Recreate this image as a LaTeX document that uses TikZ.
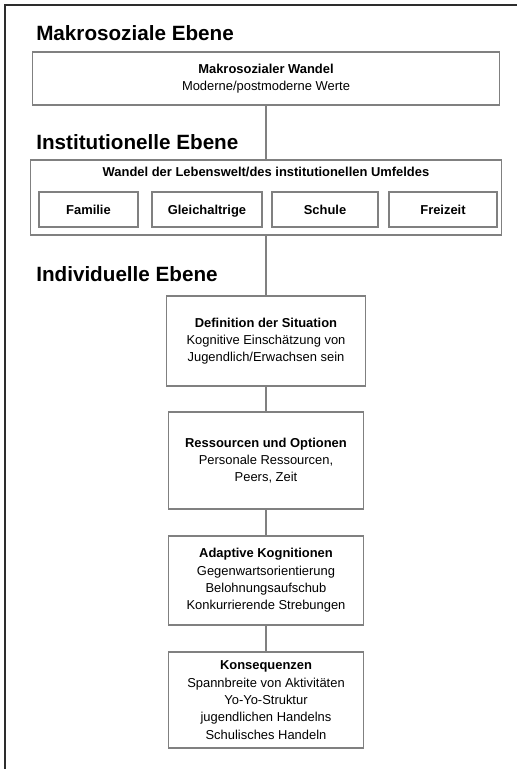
\documentclass[tikz,border=0pt]{standalone}
\usepackage{fontspec}
\setmainfont{Liberation Sans}
\usepackage{xcolor}
\definecolor{boxgray}{RGB}{128,128,128}
\definecolor{framegray}{RGB}{45,45,45}
\tikzstyle{level}=[
    anchor=base west,
    inner sep=0pt,
    text=black,
    font=\fontsize{15.5}{18}\selectfont\bfseries]
\tikzstyle{stage}=[
    rectangle,
    draw=boxgray,
    line width=0.8pt,
    inner sep=0pt,
    align=center,
    text=black,
    font=\fontsize{9.7}{13}\selectfont]
\tikzstyle{field}=[
    rectangle,
    draw=boxgray,
    line width=0.8pt,
    inner sep=0pt,
    text=black,
    text height=7pt,
    text depth=0pt,
    minimum height=26.25pt,
    font=\fontsize{9.7}{13}\selectfont\bfseries]
\tikzstyle{area}=[
    rectangle,
    draw=boxgray,
    line width=0.8pt,
    inner sep=0pt,
    minimum width=353.25pt,
    minimum height=56.25pt]
\tikzstyle{link}=[draw=boxgray, line width=0.8pt]

\begin{document}
\begin{tikzpicture}[x=0.75pt,y=0.75pt,yscale=-1,xscale=1]
\useasboundingbox (0,0) rectangle (517,769);

%Frame lines
\draw [color=framegray, line width=1.5pt] (517,5) -- (5,5) -- (5,769) ;

% Level titles
\node (tmakro) [level] at (36,40) {Makrosoziale Ebene};
\node (tinst) [level] at (36,149) {Institutionelle Ebene};
\node (tindiv) [level] at (36,281) {Individuelle Ebene};

%Makro box
\node (makro) [stage, minimum width=350.25pt, minimum height=39.75pt] at (266,78.5)
    {\textbf{Makrosozialer Wandel}\\Moderne/postmoderne Werte};

%Institutional box
\node (inst) [area] at (266,197.5) {};
\node (insttitle) [stage, draw=none] at (266,172)
    {\textbf{Wandel der Lebenswelt/des institutionellen Umfeldes}};
\node (familie) [field, minimum width=74.25pt] at (88.5,209.5) {Familie};
\node (peers) [field, minimum width=82.5pt] at (207,209.5) {Gleichaltrige};
\node (schule) [field, minimum width=79.5pt] at (325,209.5) {Schule};
\node (freizeit) [field, minimum width=81pt] at (443,209.5) {Freizeit};

%Individual boxes
\node (defsit) [stage, minimum width=149.25pt, minimum height=67.5pt] at (266,341)
    {\textbf{Definition der Situation}\\Kognitive Einschätzung von\\Jugendlich/Erwachsen sein};
\node (ressourcen) [stage, minimum width=146.25pt, minimum height=72.75pt] at (266,460.5)
    {\textbf{Ressourcen und Optionen}\\Personale Ressourcen,\\Peers, Zeit};
\node (kognition) [stage, minimum width=146.25pt, minimum height=66.75pt] at (266,580.5)
    {\textbf{Adaptive Kognitionen}\\Gegenwartsorientierung\\Belohnungsaufschub\\Konkurrierende Strebungen};
\node (konsequenz) [stage, minimum width=146.25pt, minimum height=72pt] at (266,700)
    {\textbf{Konsequenzen}\\Spannbreite von Aktivitäten\\Yo-Yo-Struktur\\jugendlichen Handelns\\Schulisches Handeln};

%Straight Lines
\draw [link] (makro) -- (inst) ;
\draw [link] (inst) -- (defsit) ;
\draw [link] (defsit) -- (ressourcen) ;
\draw [link] (ressourcen) -- (kognition) ;
\draw [link] (kognition) -- (konsequenz) ;

\end{tikzpicture}
\end{document}
